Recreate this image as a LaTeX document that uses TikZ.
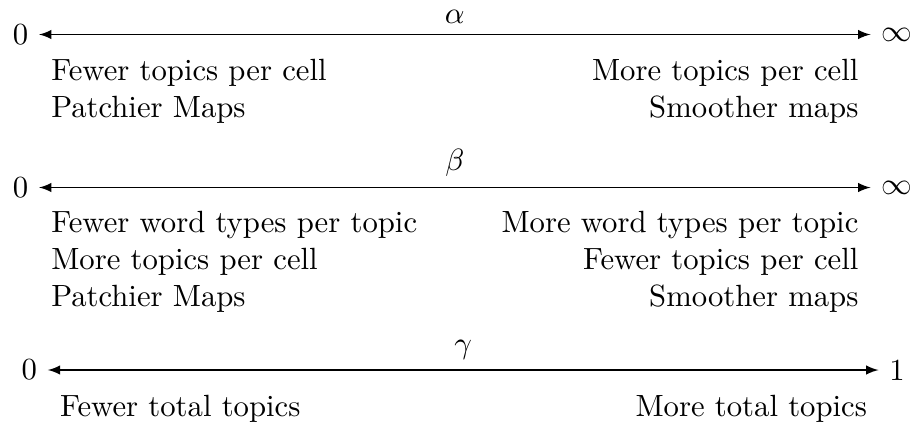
\documentclass[tikz,border=0pt]{standalone}
\begin{document}
\begin{tikzpicture}[x=0.32573pt, y=-0.32573pt,
  scalebar/.style={latex-latex},
  note/.style={inner sep=0pt}]
\useasboundingbox (0,0) rectangle (914,423);

% alpha: concentration of topics per cell
\node (a0) at (20.5,34.5) {0};
\node (ainf) at (896.7,34.5) {$\infty$};
\draw[scalebar] (a0) -- (ainf) node[midway, above] (alab) {$\alpha$};
\node[note, anchor=base west] (aL1) at (50.7,80.5) {Fewer topics per cell};
\node[note, anchor=base west] (aL2) at (50.7,117.3) {Patchier Maps};
\node[note, anchor=base east] (aR1) at (859,80.5) {More topics per cell};
\node[note, anchor=base east] (aR2) at (859,117.3) {Smoother maps};

% beta: concentration of word types per topic
\node (b0) at (20.5,187.5) {0};
\node (binf) at (896.7,187.5) {$\infty$};
\draw[scalebar] (b0) -- (binf) node[midway, above] (blab) {$\beta$};
\node[note, anchor=base west] (bL1) at (50.7,232.5) {Fewer word types per topic};
\node[note, anchor=base west] (bL2) at (50.7,269.3) {More topics per cell};
\node[note, anchor=base west] (bL3) at (50.7,306.1) {Patchier Maps};
\node[note, anchor=base east] (bR1) at (859,232.5) {More word types per topic};
\node[note, anchor=base east] (bR2) at (859,269.3) {Fewer topics per cell};
\node[note, anchor=base east] (bR3) at (859,306.1) {Smoother maps};

% gamma: total number of topics
\node (c0) at (29.3,370) {0};
\node (c1) at (897,370) {1};
\draw[scalebar] (c0) -- (c1) node[midway, above] (clab) {$\gamma$};
\node[note, anchor=base west] (cL1) at (59.5,416.5) {Fewer total topics};
\node[note, anchor=base east] (cR1) at (867.5,416.5) {More total topics};
\end{tikzpicture}
\end{document}
